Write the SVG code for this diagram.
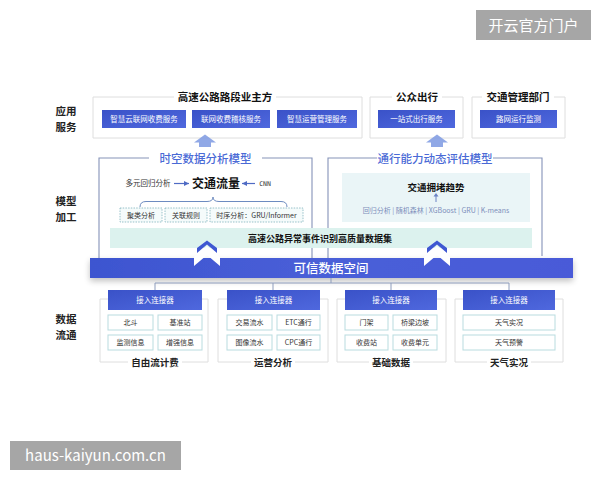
<svg xmlns="http://www.w3.org/2000/svg" width="600" height="480" viewBox="0 0 600 480">
<style>
.side{font-family:"Noto Sans CJK SC",sans-serif;font-size:10.5px;font-weight:700;fill:#222;text-anchor:middle}
.gtitle{font-family:"Noto Sans CJK SC",sans-serif;font-size:10.5px;font-weight:700;fill:#111;text-anchor:middle}
.btn{fill:url(#gBtn)}
.btnt{font-family:"Noto Sans CJK SC",sans-serif;font-size:7.5px;fill:#fff;text-anchor:middle}
.gframe{fill:none;stroke:#dedede;stroke-width:1}
.mframe{fill:none;stroke:#8593b8;stroke-width:1.1}
.mtitle{font-family:"Noto Sans CJK SC",sans-serif;font-size:11.5px;font-weight:500;fill:#4a6ad6;text-anchor:middle}
.dbox{fill:#f5fbfb;stroke:#7fb3bd;stroke-width:0.8;stroke-dasharray:1.5 1.2}
.small{font-family:"Noto Sans CJK SC",sans-serif;font-size:7px;fill:#333;text-anchor:middle}
.cell{fill:#fff;stroke:#b9dcdf;stroke-width:1}
.cellt{font-family:"Noto Sans CJK SC",sans-serif;font-size:7px;fill:#333;text-anchor:middle}
.blabel{font-family:"Noto Sans CJK SC",sans-serif;font-size:9.5px;font-weight:700;fill:#222;text-anchor:middle}
.conn{fill:none;stroke:#8d9cbc;stroke-width:1}
.wm{fill:#a6a6a6}
.wmt{font-family:"Noto Sans CJK SC","Liberation Sans",sans-serif;font-size:15px;fill:#fff;text-anchor:middle}
</style>
<defs>
<linearGradient id="gBtn" x1="0" y1="0" x2="1" y2="1"><stop offset="0" stop-color="#3a52c8"/><stop offset="1" stop-color="#4f68de"/></linearGradient>
<linearGradient id="gBand" x1="0" y1="0" x2="1" y2="0"><stop offset="0" stop-color="#3d55d0"/><stop offset="0.5" stop-color="#4a5fd8"/><stop offset="1" stop-color="#4a5ad8"/></linearGradient>
<filter id="sh" x="-5%" y="-50%" width="110%" height="220%"><feGaussianBlur in="SourceAlpha" stdDeviation="3"/><feOffset dy="3"/><feComponentTransfer><feFuncA type="linear" slope="0.25"/></feComponentTransfer><feMerge><feMergeNode/><feMergeNode in="SourceGraphic"/></feMerge></filter>
<marker id="ah" markerWidth="6" markerHeight="6" refX="5" refY="3" orient="auto" markerUnits="userSpaceOnUse"><path d="M0,0.5 L5,3 L0,5.5 Z" fill="#4f6bc4"/></marker>
</defs>
<rect width="600" height="480" fill="#fff"/>

<g id="side-labels">
<text class="side" x="66" y="115">应用</text><text class="side" x="66" y="131">服务</text>
<text class="side" x="66" y="205">模型</text><text class="side" x="66" y="221">加工</text>
<text class="side" x="66" y="323">数据</text><text class="side" x="66" y="339">流通</text>
</g>

<g id="group-owner">
<path class="gframe" d="M174,97 H93 V138 H362 V97 H276"/>
<text class="gtitle" x="225" y="101">高速公路路段业主方</text>
<rect class="btn" x="102" y="110" width="84" height="18"/><text class="btnt" x="144" y="122">智慧云联网收费服务</text>
<rect class="btn" x="192" y="110" width="78" height="18"/><text class="btnt" x="231" y="122">联网收费稽核服务</text>
<rect class="btn" x="277" y="110" width="80" height="18"/><text class="btnt" x="317" y="122">智慧运营管理服务</text>
</g>
<g id="group-public">
<path class="gframe" d="M392,97 H370 V138 H463 V97 H442"/>
<text class="gtitle" x="417" y="101">公众出行</text>
<rect class="btn" x="378" y="110" width="77" height="18"/><text class="btnt" x="416.5" y="122">一站式出行服务</text>
</g>
<g id="group-traffic">
<path class="gframe" d="M482,97 H472 V138 H565 V97 H554"/>
<text class="gtitle" x="518" y="101">交通管理部门</text>
<rect class="btn" x="480" y="110" width="77" height="18"/><text class="btnt" x="518.5" y="122">路网运行监测</text>
</g>

<g id="model-spatiotemporal">
<path class="mframe" d="M149,158 H99 V258"/>
<path class="mframe" d="M262,158 H312 V258"/>
<text class="mtitle" x="205.5" y="162.5">时空数据分析模型</text>
<text class="small" x="148" y="186" style="font-size:7.5px">多元回归分析</text>
<line x1="174" y1="183.5" x2="189" y2="183.5" stroke="#4f6bc4" stroke-width="1.2" marker-end="url(#ah)"/>
<text x="216" y="188" style="font-family:'Noto Sans CJK SC',sans-serif;font-size:12px;font-weight:700;fill:#111;text-anchor:middle">交通流量</text>
<line x1="255" y1="183.5" x2="242" y2="183.5" stroke="#4f6bc4" stroke-width="1.2" marker-end="url(#ah)"/>
<text x="265" y="186" style="font-family:'DejaVu Sans Mono',monospace;font-size:6.5px;fill:#333;text-anchor:middle">CNN</text>
<path d="M140,207 Q140,201.5 146,201.5 L207,201.5 Q213,201.5 213,197 Q213,201.5 219,201.5 L281,201.5 Q287,201.5 287,207" fill="none" stroke="#6d8bc0" stroke-width="1"/>
<rect class="dbox" x="120" y="208" width="42" height="14"/><text class="small" x="141" y="218">聚类分析</text>
<rect class="dbox" x="165" y="208" width="42" height="14"/><text class="small" x="186" y="218">关联规则</text>
<rect class="dbox" x="210" y="208" width="93" height="14"/><text class="small" x="256.5" y="218">时序分析：GRU/Informer</text>
</g>
<g id="model-capacity">
<path class="mframe" d="M377,158 H328 V258"/>
<path class="mframe" d="M493,158 H542 V256"/>
<text class="mtitle" x="435" y="162.5">通行能力动态评估模型</text>
<rect x="342" y="173" width="188" height="49" fill="#eaf5f7"/>
<text x="436" y="191" style="font-family:'Noto Sans CJK SC',sans-serif;font-size:9.5px;font-weight:700;fill:#111;text-anchor:middle">交通拥堵趋势</text>
<line x1="436" y1="202" x2="436" y2="195" stroke="#6a82c4" stroke-width="1"/>
<path d="M433.5,196.5 L436,193 L438.5,196.5 Z" fill="#6a82c4"/>
<text x="436" y="212.5" style="font-family:'Noto Sans CJK SC',sans-serif;font-size:7px;fill:#7d8fbb;text-anchor:middle">回归分析 | 随机森林 | XGBoost | GRU | K-means</text>
</g>
<g id="dataset">
<rect x="110" y="228" width="422" height="20" fill="#dcf2ee"/>
<text x="320" y="241.5" style="font-family:'Noto Sans CJK SC',sans-serif;font-size:9px;font-weight:700;fill:#111;text-anchor:middle">高速公路异常事件识别高质量数据集</text>
</g>
<g id="trusted-space">
<rect x="90" y="258" width="483" height="20" fill="url(#gBand)" filter="url(#sh)"/>
<text x="331" y="272.5" style="font-family:'Noto Sans CJK SC',serif;font-size:12.5px;font-weight:500;fill:#fff;text-anchor:middle">可信数据空间</text>
</g>

<g id="connectors">
<path d="M199,147 V142.5 H194 L205,134.5 L216,142.5 H211 V147 Z" fill="#7c99e2" opacity="0.85"/>
<path d="M431,147 V142.5 H426 L437,134.5 L448,142.5 H443 V147 Z" fill="#7c99e2" opacity="0.85"/>
<path d="M194,266 L207,255 L220,266 L220,257 L207,246 L194,257 Z" fill="#fff"/>
<path d="M197,253 L207,244.5 L217,253 L217,248 L207,240.5 L197,248 Z" fill="#3f58d2"/>
<path d="M424,266 L437,255 L450,266 L450,257 L437,246 L424,257 Z" fill="#fff"/>
<path d="M427,253 L437,244.5 L447,253 L447,248 L437,240.5 L427,248 Z" fill="#3f58d2"/>
<path class="conn" d="M331,278 V283"/>
<path class="conn" d="M155,290 V283 H509 V290"/>
<path class="conn" d="M273,283 V290"/>
<path class="conn" d="M391,283 V290"/>
</g>

<g id="block-freeflow">
<path class="gframe" d="M128,362 H100 V299 H208 V362 H182"/>
<rect class="btn" x="108" y="290" width="94" height="20"/><text class="btnt" x="155" y="303">接入连接器</text>
<rect class="cell" x="108" y="315" width="45" height="15"/><text class="cellt" x="130.5" y="325">北斗</text>
<rect class="cell" x="158" y="315" width="44" height="15"/><text class="cellt" x="180" y="325">基准站</text>
<rect class="cell" x="108" y="335" width="45" height="15"/><text class="cellt" x="130.5" y="345">监测信息</text>
<rect class="cell" x="158" y="335" width="44" height="15"/><text class="cellt" x="180" y="345">增强信息</text>
<text class="blabel" x="155" y="366">自由流计费</text>
</g>
<g id="block-operation">
<path class="gframe" d="M251,362 H218 V299 H328 V362 H295"/>
<rect class="btn" x="227" y="290" width="93" height="20"/><text class="btnt" x="273.5" y="303">接入连接器</text>
<rect class="cell" x="227" y="315" width="45" height="15"/><text class="cellt" x="249.5" y="325">交易流水</text>
<rect class="cell" x="277" y="315" width="43" height="15"/><text class="cellt" x="298.5" y="325">ETC通行</text>
<rect class="cell" x="227" y="335" width="45" height="15"/><text class="cellt" x="249.5" y="345">图像流水</text>
<rect class="cell" x="277" y="335" width="43" height="15"/><text class="cellt" x="298.5" y="345">CPC通行</text>
<text class="blabel" x="273" y="366">运营分析</text>
</g>
<g id="block-basic">
<path class="gframe" d="M369,362 H337 V299 H446 V362 H413"/>
<rect class="btn" x="345" y="290" width="92" height="20"/><text class="btnt" x="391" y="303">接入连接器</text>
<rect class="cell" x="345" y="315" width="43" height="15"/><text class="cellt" x="366.5" y="325">门架</text>
<rect class="cell" x="393" y="315" width="44" height="15"/><text class="cellt" x="415" y="325">桥梁边坡</text>
<rect class="cell" x="345" y="335" width="43" height="15"/><text class="cellt" x="366.5" y="345">收费站</text>
<rect class="cell" x="393" y="335" width="44" height="15"/><text class="cellt" x="415" y="345">收费单元</text>
<text class="blabel" x="391" y="366">基础数据</text>
</g>
<g id="block-weather">
<path class="gframe" d="M487,362 H455 V299 H563 V362 H531"/>
<rect class="btn" x="463" y="290" width="92" height="20"/><text class="btnt" x="509" y="303">接入连接器</text>
<rect class="cell" x="463" y="315" width="92" height="15"/><text class="cellt" x="509" y="325">天气实况</text>
<rect class="cell" x="463" y="335" width="92" height="15"/><text class="cellt" x="509" y="345">天气预警</text>
<text class="blabel" x="509" y="366">天气实况</text>
</g>

<g id="wm-top"><rect class="wm" x="476" y="10" width="115" height="30"/><text class="wmt" x="533.5" y="30.5">开云官方门户</text></g>
<g id="wm-bottom"><rect class="wm" x="10" y="441" width="171" height="29"/><text class="wmt" x="95.5" y="461">haus-kaiyun.com.cn</text></g>
</svg>
